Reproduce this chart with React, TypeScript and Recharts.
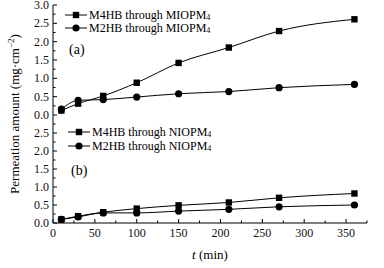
import { Line, LineChart, XAxis, YAxis } from "recharts";

const times = [10, 30, 60, 100, 150, 210, 270, 360];
const m4hbMiopm = [0.12, 0.31, 0.52, 0.88, 1.42, 1.84, 2.29, 2.61];
const m2hbMiopm = [0.16, 0.4, 0.42, 0.49, 0.58, 0.64, 0.745, 0.835];
const m4hbNiopm = [0.1, 0.19, 0.3, 0.4, 0.49, 0.57, 0.7, 0.82];
const m2hbNiopm = [0.1, 0.17, 0.28, 0.28, 0.33, 0.38, 0.45, 0.5];

// every 25 min; labels only on the 50s
const xTicks = [0, 25, 50, 75, 100, 125, 150, 175, 200, 225, 250, 275, 300, 325, 350, 375];
// every 0.25; labels only on the 0.5s
const yTicksTop = [0, 0.25, 0.5, 0.75, 1, 1.25, 1.5, 1.75, 2, 2.25, 2.5, 2.75, 3];
const yTicksBottom = [0, 0.25, 0.5, 0.75, 1, 1.25, 1.5, 1.75, 2, 2.25, 2.5, 2.75];

const topData = times.map((t, i) => ({ t, sq: m4hbMiopm[i], ci: m2hbMiopm[i] }));
const bottomData = times.map((t, i) => ({ t, sq: m4hbNiopm[i], ci: m2hbNiopm[i] }));

const FONT = "'Liberation Serif', 'Times New Roman', serif";
const W = 384;

const Square = (p: any) => (
  <rect key={p.key} x={p.cx - 3.2} y={p.cy - 3.2} width={6.4} height={6.4} fill="#000" />
);
const Circle = (p: any) => <circle key={p.key} cx={p.cx} cy={p.cy} r={3.6} fill="#000" />;

const isMajor = (v: number, step: number) => Math.abs(v / step - Math.round(v / step)) < 1e-6;

const makeXTick = (labels: boolean) => (p: any) => {
  const v = p.payload.value;
  const major = isMajor(v, 50);
  return (
    <g>
      <line x1={p.x} y1={p.y} x2={p.x} y2={p.y - (major ? 4 : 2.5)} stroke="#000" />
      {labels && major && (
        <text x={p.x} y={p.y + 14} textAnchor="middle" fontSize={12} fontFamily={FONT} fill="#111">
          {v}
        </text>
      )}
    </g>
  );
};

const YTick = (p: any) => {
  const v = p.payload.value;
  const major = isMajor(v, 0.5);
  return (
    <g>
      <line x1={p.x} y1={p.y} x2={p.x + (major ? 4 : 2.5)} y2={p.y} stroke="#000" />
      {major && (
        <text x={p.x - 4} y={p.y + 4} textAnchor="end" fontSize={12} fontFamily={FONT} fill="#111">
          {v.toFixed(1)}
        </text>
      )}
    </g>
  );
};

function LegendRow({ shape, text, x, y }: { shape: "sq" | "ci"; text: string; x: number; y: number }) {
  return (
    <div style={{ position: "absolute", left: x, top: y - 8, height: 16, display: "flex", alignItems: "center", fontFamily: FONT, fontSize: 12, whiteSpace: "nowrap" }}>
      <svg width={22} height={12} style={{ marginRight: 2 }}>
        <line x1={0} y1={6} x2={22} y2={6} stroke="#000" strokeWidth={1} />
        {shape === "sq" ? <rect x={7.8} y={2.8} width={6.4} height={6.4} fill="#000" /> : <circle cx={11} cy={6} r={3.6} fill="#000" />}
      </svg>
      <span>
        {text}
        <sub style={{ fontSize: 8, verticalAlign: "-1px" }}>4</sub>
      </span>
    </div>
  );
}

function Panel({ data, yTicks, top, height, marginTop, marginBottom, bottomAxis }: any) {
  return (
    <div style={{ position: "absolute", left: 0, top }}>
      <LineChart
        width={W}
        height={height}
        data={data}
        margin={{ top: marginTop, right: 17, bottom: marginBottom, left: 0 }}
      >
        <XAxis
          dataKey="t"
          type="number"
          domain={[0, 375]}
          ticks={xTicks}
          interval={0}
          tickLine={false}
          tickSize={0}
          tickMargin={0}
          axisLine={{ stroke: "#000" }}
          height={bottomAxis ? 45 : 0}
          tick={makeXTick(bottomAxis)}
        />
        <YAxis
          type="number"
          domain={[0, 3]}
          ticks={yTicks}
          interval={0}
          width={53}
          tickLine={false}
          tickSize={0}
          tickMargin={0}
          axisLine={{ stroke: "#000" }}
          tick={YTick}
        />
        <Line type="monotone" dataKey="ci" stroke="#000" strokeWidth={1} dot={Circle} isAnimationActive={false} />
        <Line type="monotone" dataKey="sq" stroke="#000" strokeWidth={1} dot={Square} isAnimationActive={false} />
      </LineChart>
    </div>
  );
}

export default function App() {
  return (
    <div style={{ position: "absolute", left: 0, top: 0, width: W, height: 268, background: "#fff", fontFamily: FONT, color: "#000", overflow: "hidden" }}>
      <Panel data={topData} yTicks={yTicksTop} top={-6} height={131} marginTop={11} marginBottom={10} bottomAxis={false} />
      <Panel data={bottomData} yTicks={yTicksBottom} top={115} height={153} marginTop={0} marginBottom={0} bottomAxis />

      <LegendRow shape="sq" text="M4HB through MIOPM" x={65} y={15} />
      <LegendRow shape="ci" text="M2HB through MIOPM" x={65} y={28} />
      <LegendRow shape="sq" text="M4HB through NIOPM" x={68} y={132} />
      <LegendRow shape="ci" text="M2HB through NIOPM" x={68} y={146} />

      <div style={{ position: "absolute", left: 69, top: 42, fontSize: 14 }}>(a)</div>
      <div style={{ position: "absolute", left: 71, top: 163, fontSize: 14 }}>(b)</div>

      <div style={{ position: "absolute", left: 0, width: 420, top: 247, textAlign: "center", fontSize: 13 }}>
        <i>t</i> (min)
      </div>

      <div
        style={{
          position: "absolute",
          left: 11 - 110,
          top: 114 - 9,
          width: 220,
          height: 18,
          lineHeight: "18px",
          textAlign: "center",
          fontSize: 13,
          transform: "rotate(-90deg)",
          transformOrigin: "center",
          whiteSpace: "nowrap",
        }}
      >
        Permeation amount (mg·cm<sup style={{ fontSize: 9 }}>−2</sup>)
      </div>
    </div>
  );
}
